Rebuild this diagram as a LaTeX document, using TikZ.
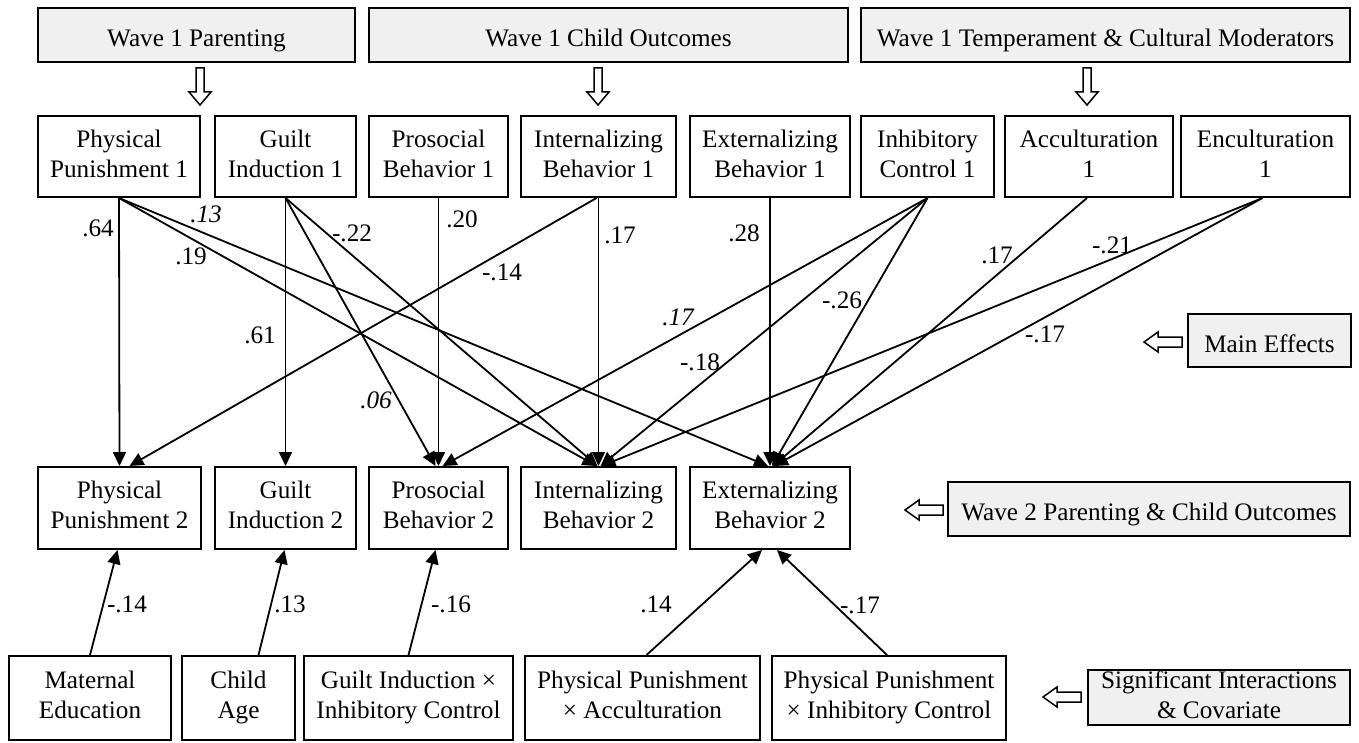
\documentclass[tikz,border=0pt]{standalone}
\usepackage{fontspec}
\setmainfont{Liberation Serif}
\usetikzlibrary{arrows.meta,calc}
\newcommand\hollowdown[2]{\draw[hollow] (#1-4,#2) -- (#1+4,#2) -- (#1+4,#2+24) -- (#1+11,#2+24) -- (#1,#2+37) -- (#1-11,#2+24) -- (#1-4,#2+24) -- cycle;}
\newcommand\hollowleft[2]{\draw[hollow] (#1,#2) -- (#1+14,#2-10) -- (#1+14,#2-5) -- (#1+38,#2-5) -- (#1+38,#2+5) -- (#1+14,#2+5) -- (#1+14,#2+10) -- cycle;}
\newcommand\topstrutA{\rule{0pt}{27pt}}
\newcommand\topstrutB{\rule{0pt}{31pt}}
\newcommand\topstrutC{\rule{0pt}{29pt}}
\newcommand\botstrut{\rule[-6pt]{0pt}{6pt}}
\begin{document}
\begin{tikzpicture}[x=1pt,y=-1pt,
 txt/.style={font=\fontsize{25.2}{30}\selectfont},
 box/.style={txt,draw,line width=2pt,align=center,inner sep=0pt,
   execute at begin node=\topstrutA, execute at end node=\botstrut},
 botbox/.style={box,execute at begin node=\topstrutB},
 hdr2/.style={box,fill=gray!12},
 hdr/.style={hdr2,execute at begin node=\topstrutC},
 conn/.style={line width=1.8pt,-{Triangle[length=14pt,width=13pt]}},
 lab/.style={txt,inner sep=0pt},
 ilab/.style={lab,font=\fontsize{25.2}{30}\selectfont\itshape},
 hollow/.style={draw,line width=1.5pt,fill=white}]
\useasboundingbox (0,0) rectangle (1359,743);
% headers
\node[hdr,minimum width=317pt,minimum height=54pt] (h1) at (196.5,35) {Wave 1 Parenting};
\node[hdr,minimum width=479pt,minimum height=54pt] (h2) at (608.5,35) {Wave 1 Child Outcomes};
\node[hdr,minimum width=489pt,minimum height=54pt] (h3) at (1105.5,35) {Wave 1 Temperament \& Cultural Moderators};
\node[hdr,minimum width=402pt,minimum height=54pt] (w2) at (1149,509) {Wave 2 Parenting \& Child Outcomes};
\node[hdr,minimum width=163pt,minimum height=53pt] (me) at (1269.5,340.5) {Main Effects};
\node[hdr2,minimum width=262pt,minimum height=55pt] (sig) at (1219,697.5) {Significant Interactions\\\& Covariate};
% top row
\node[box,minimum width=162pt,minimum height=81pt] (pp1) at (119,156.5) {Physical\\Punishment 1};
\node[box,minimum width=141pt,minimum height=81pt] (gi1) at (285.5,156.5) {Guilt\\Induction 1};
\node[box,minimum width=139pt,minimum height=81pt] (pb1) at (438.5,156.5) {Prosocial\\Behavior 1};
\node[box,minimum width=155pt,minimum height=81pt] (ib1) at (598.5,156.5) {Internalizing\\Behavior 1};
\node[box,minimum width=160pt,minimum height=81pt] (eb1) at (770,156.5) {Externalizing\\Behavior 1};
\node[box,minimum width=133pt,minimum height=81pt] (ic1) at (927.5,156.5) {Inhibitory\\Control 1};
\node[box,minimum width=168pt,minimum height=81pt] (ac1) at (1089,156.5) {Acculturation\\1};
\node[box,minimum width=169pt,minimum height=81pt] (en1) at (1265.5,156.5) {Enculturation\\1};
% second row
\node[box,minimum width=163pt,minimum height=82pt] (pp2) at (119.5,508) {Physical\\Punishment 2};
\node[box,minimum width=141pt,minimum height=82pt] (gi2) at (285.5,508) {Guilt\\Induction 2};
\node[box,minimum width=139pt,minimum height=82pt] (pb2) at (438.5,508) {Prosocial\\Behavior 2};
\node[box,minimum width=155pt,minimum height=82pt] (ib2) at (598.5,508) {Internalizing\\Behavior 2};
\node[box,minimum width=160pt,minimum height=82pt] (eb2) at (770,508) {Externalizing\\Behavior 2};
% bottom row
\node[botbox,minimum width=162pt,minimum height=84pt] (med) at (90,698) {Maternal\\Education};
\node[botbox,minimum width=113pt,minimum height=84pt] (age) at (238.5,698) {Child\\Age};
\node[botbox,minimum width=209pt,minimum height=84pt] (gxi) at (408.5,698) {Guilt Induction ×\\Inhibitory Control};
\node[botbox,minimum width=235pt,minimum height=84pt] (pxa) at (642.5,698) {Physical Punishment\\× Acculturation};
\node[botbox,minimum width=234pt,minimum height=84pt] (pxi) at (889,698) {Physical Punishment\\× Inhibitory Control};
% hollow arrows
\hollowdown{200}{68}
\hollowdown{598}{68}
\hollowdown{1087}{68}
\hollowleft{1144}{342}
\hollowleft{905}{510}
\hollowleft{1043}{697}
% main connectors
\draw[conn] (pp1.south) -- (pp2.north);
\draw[conn] (pp1.south) -- ([xshift=-2pt]ib2.north);
\draw[conn] (pp1.south) -- ([xshift=-2pt]eb2.north);
\draw[conn] (gi1.south) -- (gi2.north);
\draw[conn] (gi1.south) -- ([xshift=-3pt]pb2.north);
\draw[conn] (gi1.south) -- ([xshift=-1pt]ib2.north);
\draw[conn] (pb1.south) -- (pb2.north);
\draw[conn] ([xshift=-2pt]ib1.south) -- ([xshift=10pt]pp2.north);
\draw[conn] (ib1.south) -- (ib2.north);
\draw[conn] (eb1.south) -- (eb2.north);
\draw[conn] (ic1.south) -- ([xshift=4pt]pb2.north);
\draw[conn] (ic1.south) -- ([xshift=2pt]ib2.north);
\draw[conn] (ic1.south) -- ([xshift=2pt]eb2.north);
\draw[conn] ([xshift=-2pt]ac1.south) -- ([xshift=3pt]eb2.north);
\draw[conn] ([xshift=-3pt]en1.south) -- ([xshift=3pt]ib2.north);
\draw[conn] ([xshift=-3pt]en1.south) -- ([xshift=4pt]eb2.north);
% bottom connectors
\draw[conn] (med.north) -- ([xshift=-2pt]pp2.south);
\draw[conn] ([xshift=20pt]age.north) -- ([xshift=-1pt]gi2.south);
\draw[conn] (gxi.north) -- ([xshift=-3pt]pb2.south);
\draw[conn] ([xshift=4pt]pxa.north) -- ([xshift=-8pt]eb2.south);
\draw[conn] ([xshift=-2pt]pxi.north) -- ([xshift=7pt]eb2.south);
% labels
\node[lab] (l1) at (98,228) {.64};
\node[ilab] (l2) at (206,214) {.13};
\node[lab] (l3) at (191,256) {.19};
\node[lab] (l4) at (352,233) {-.22};
\node[lab] (l5) at (462,219) {.20};
\node[lab] (l6) at (620,235) {.17};
\node[lab] (l7) at (502,272) {-.14};
\node[lab] (l8) at (260,335) {.61};
\node[ilab] (l9) at (376,400) {.06};
\node[ilab] (l10) at (678,317) {.17};
\node[lab] (l11) at (700,362) {-.18};
\node[lab] (l12) at (744,233) {.28};
\node[lab] (l13) at (842,300) {-.26};
\node[lab] (l14) at (997,255) {.17};
\node[lab] (l15) at (1112,245) {-.21};
\node[lab] (l16) at (1045,334) {-.17};
\node[lab] (l17) at (127,604) {-.14};
\node[lab] (l18) at (290,604) {.13};
\node[lab] (l19) at (451,604) {-.16};
\node[lab] (l20) at (656,604) {.14};
\node[lab] (l21) at (860,605) {-.17};
\end{tikzpicture}
\end{document}
